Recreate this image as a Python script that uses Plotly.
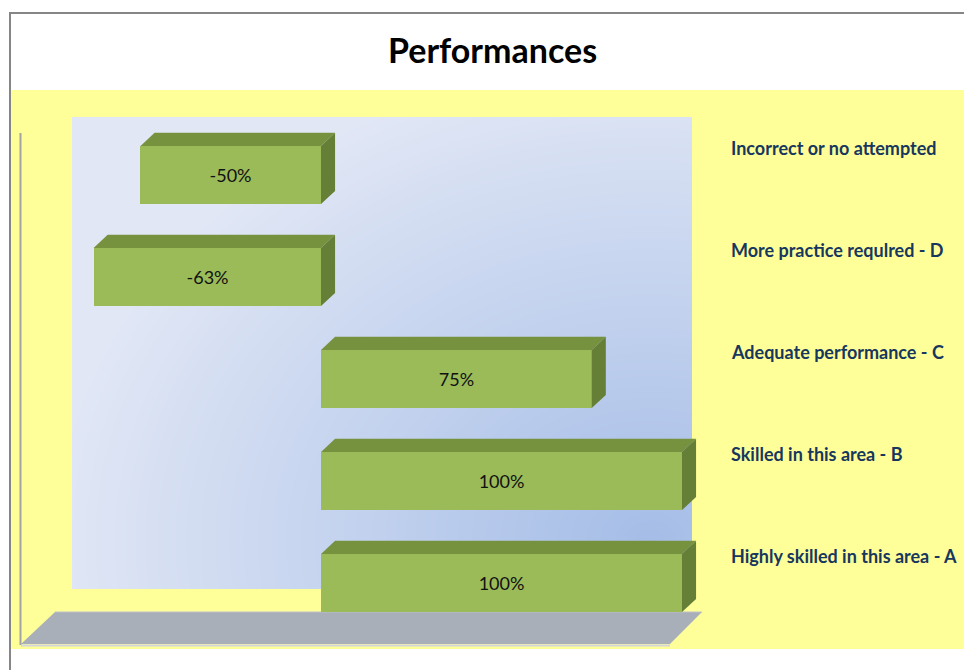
import base64
import struct
import zlib

import numpy as np
import plotly.graph_objects as go

# ---- data -------------------------------------------------------------
categories = [
    "Highly skilled in this area - A",
    "Skilled in this area - B",
    "Adequate performance - C",
    "More practice requlred - D",
    "Incorrect or no attempted",
]
values = [100, 100, 75, -63, -50]
value_labels = ["100%", "100%", "75%", "-63%", "-50%"]

# ---- geometry / style -------------------------------------------------
W, H = 964, 670
FONT = "Lato, DejaVu Sans Condensed, sans-serif"
FRONT = "#9BBB59"
TOP = "#77923F"
SIDE = "#667F37"
LABEL_BLUE = "#17375E"

# plot area in pixels (the yellow region)
PX_L, PX_R, PY_T, PY_B = 11, 964, 90, 649
X_RANGE = [-85.87, 178.12]
Y_RANGE = [-0.647, 4.833]
BAR_W = 0.57
DEPTH_X = 3.9      # depth offset along x (data units)
DEPTH_Y = 0.128    # depth offset along y (data units)


def pxx(px):
    return px / W


def pxy(py):
    return 1 - py / H


def png_uri(rgb):
    h, w, _ = rgb.shape
    raw = b"".join(b"\x00" + rgb[r].tobytes() for r in range(h))

    def chunk(tag, data):
        body = tag + data
        return struct.pack(">I", len(data)) + body + struct.pack(">I", zlib.crc32(body) & 0xFFFFFFFF)

    png = (b"\x89PNG\r\n\x1a\n"
           + chunk(b"IHDR", struct.pack(">IIBBBBB", w, h, 8, 2, 0, 0, 0))
           + chunk(b"IDAT", zlib.compress(raw, 9))
           + chunk(b"IEND", b""))
    return "data:image/png;base64," + base64.b64encode(png).decode()


# back wall gradient (light blue, darker toward the lower right)
WALL_L, WALL_R, WALL_T, WALL_B = 72, 692, 117, 589
ww, wh = WALL_R - WALL_L, WALL_B - WALL_T
gx, gy = np.meshgrid(np.arange(ww) + WALL_L, np.arange(wh) + WALL_T)
dist = np.sqrt((gx - 650) ** 2 + (1.25 * (gy - 540)) ** 2)
t = np.clip(1 - dist / 600, 0, 1)[..., None]
light = np.array([225, 231, 245], dtype=float)
dark = np.array([165, 189, 231], dtype=float)
wall_rgb = (light * (1 - t) + dark * t).round().astype(np.uint8)

fig = go.Figure()

# front faces of the bars
ypos = list(range(len(values)))
fig.add_trace(go.Bar(
    x=values, y=ypos, orientation="h", width=BAR_W, base=0,
    marker=dict(color=FRONT, line=dict(width=0)),
    text=value_labels, textposition="inside", insidetextanchor="middle",
    textangle=0,
    textfont=dict(family=FONT, size=18, color="#111111"),
    hoverinfo="skip", showlegend=False,
))

# top and side faces give the bars their depth
for v, yc in zip(values, ypos):
    x0, x1 = min(0, v), max(0, v)
    yb, yt = yc - BAR_W / 2, yc + BAR_W / 2
    fig.add_trace(go.Scatter(
        x=[x0, x0 + DEPTH_X, x1 + DEPTH_X, x1, x0],
        y=[yt, yt + DEPTH_Y, yt + DEPTH_Y, yt, yt],
        fill="toself", fillcolor=TOP, mode="lines", line=dict(width=0),
        hoverinfo="skip", showlegend=False,
    ))
    fig.add_trace(go.Scatter(
        x=[x1, x1 + DEPTH_X, x1 + DEPTH_X, x1, x1],
        y=[yt, yt + DEPTH_Y, yb + DEPTH_Y, yb, yt],
        fill="toself", fillcolor=SIDE, mode="lines", line=dict(width=0),
        hoverinfo="skip", showlegend=False,
    ))

shapes = [
    # outer chart border
    dict(type="rect", xref="paper", yref="paper",
         x0=pxx(10), x1=pxx(970), y0=pxy(676), y1=pxy(13),
         line=dict(color="#868686", width=2), fillcolor="rgba(0,0,0,0)", layer="above"),
    # floor
    dict(type="path", xref="paper", yref="paper",
         path=(f"M {pxx(21)},{pxy(644)} L {pxx(55)},{pxy(612)} "
               f"L {pxx(702)},{pxy(612)} L {pxx(670)},{pxy(644)} Z"),
         fillcolor="#A9AFB8", line=dict(width=0), layer="below"),
    dict(type="line", xref="paper", yref="paper",
         x0=pxx(21), x1=pxx(670), y0=pxy(645.5), y1=pxy(645.5),
         line=dict(color="#D3D5D8", width=2), layer="below"),
    dict(type="line", xref="paper", yref="paper",
         x0=pxx(55), x1=pxx(702), y0=pxy(612), y1=pxy(612),
         line=dict(color="#BEC2C8", width=1), layer="below"),
    # side wall edge
    dict(type="line", xref="paper", yref="paper",
         x0=pxx(20.5), x1=pxx(20.5), y0=pxy(133), y1=pxy(645),
         line=dict(color="#A3A3A3", width=2), layer="below"),
]

annotations = [
    dict(text="<b>Performances</b>", xref="paper", yref="paper",
         x=pxx(493), y=pxy(50), xanchor="center", yanchor="middle",
         showarrow=False,
         font=dict(family=FONT, size=34, color="#000000")),
]
for cat, yc in zip(categories, ypos):
    annotations.append(dict(
        text=f"<b>{cat}</b>", xref="paper", yref="y",
        x=pxx(729), y=yc + 0.26, xanchor="left", yanchor="middle",
        showarrow=False,
        font=dict(family=FONT, size=18, color=LABEL_BLUE),
    ))

fig.update_layout(
    width=W, height=H,
    margin=dict(l=0, r=0, t=0, b=0),
    paper_bgcolor="#FFFFFF",
    plot_bgcolor="#FFFF99",
    xaxis=dict(domain=[pxx(PX_L), pxx(PX_R)], range=X_RANGE, visible=False, fixedrange=True),
    yaxis=dict(domain=[pxy(PY_B), pxy(PY_T)], range=Y_RANGE, visible=False, fixedrange=True),
    shapes=shapes,
    annotations=annotations,
    images=[dict(source=png_uri(wall_rgb), xref="paper", yref="paper",
                 x=pxx(WALL_L), y=pxy(WALL_T), sizex=ww / W, sizey=wh / H,
                 xanchor="left", yanchor="top", sizing="stretch", layer="below")],
    showlegend=False,
    bargap=0,
)

fig.write_html("out.html")
